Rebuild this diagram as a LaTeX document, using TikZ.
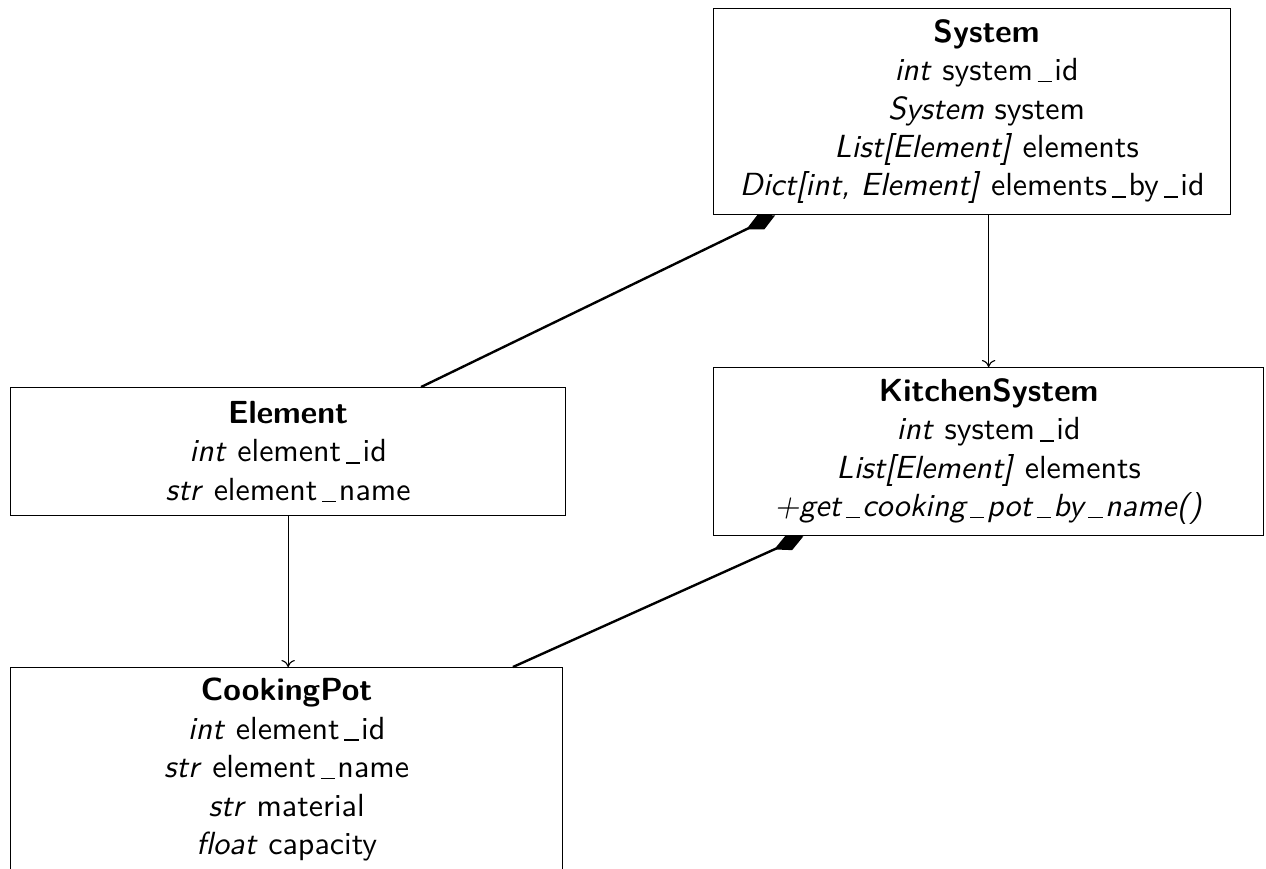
\documentclass[tikz,border=0pt]{standalone}
\usetikzlibrary{arrows.meta,calc}
% thin ruled underscore with a little air on both sides
\newcommand\us{\kern0.15em\rule[-0.05em]{0.44em}{0.045em}\kern0.08em}
% a line of the System box set a little right of the box centre
\newcommand\rline[1]{\mbox{\hspace*{9pt}#1}}
\begin{document}
\begin{tikzpicture}[x=0.3125pt,y=-0.3125pt,
  cls/.style={draw, line width=0.4pt, anchor=north west, align=center,
    inner sep=0pt, font=\normalsize\sffamily},
  inherit/.style={-{To[length=2.2pt,width=4.2pt]}, line width=0.35pt},
  compose/.style={{Diamond[length=10pt,width=5pt]}-, line width=0.75pt}]
\useasboundingbox (0,0) rectangle (1266,868);

% classes
\node[cls, minimum width=161.56pt, minimum height=64.375pt] (System) at (713,8)
  {\rline{\textbf{System}}\\
   \rline{\textit{int} system\us id}\\
   \rline{\textit{System} system}\\
   \rline{\textit{List[Element]} elements}\\
   \textit{Dict[int, Element]} elements\us by\us id};

\node[cls, minimum width=171.875pt, minimum height=52.5pt] (KitchenSystem) at (713,367)
  {\textbf{KitchenSystem}\\
   \textit{int} system\us id\\
   \textit{List[Element]} elements\\
   \textit{+get\us cooking\us pot\us by\us name()}};

\node[cls, minimum width=173.44pt, minimum height=40pt] (Element) at (10,387)
  {\textbf{Element}\\
   \textit{int} element\us id\\
   \textit{str} element\us name};

\node[cls, minimum width=172.5pt, minimum height=63.75pt] (CookingPot) at (10,667)
  {\textbf{CookingPot}\\
   \textit{int} element\us id\\
   \textit{str} element\us name\\
   \textit{str} material\\
   \textit{float} capacity};

% inheritance
\draw[inherit] (System.south -| KitchenSystem.north) -- (KitchenSystem.north);
\draw[inherit] (Element.south) -- (Element.south |- CookingPot.north);

% composition
\draw[compose] ($(System.south west)!0.12!(System.south east)$)
  -- ($(Element.north west)!0.739!(Element.north east)$);
\draw[compose] ($(KitchenSystem.south west)!0.164!(KitchenSystem.south east)$)
  -- ($(CookingPot.north west)!0.909!(CookingPot.north east)$);
\end{tikzpicture}
\end{document}
